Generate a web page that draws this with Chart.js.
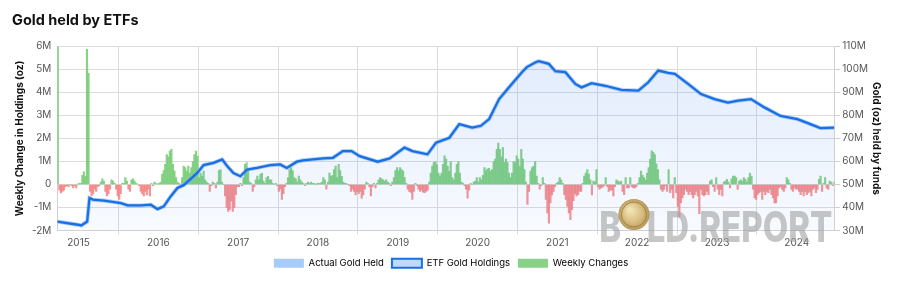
<!DOCTYPE html>
<html>
<head>
<meta charset="utf-8">
<title>Gold held by ETFs</title>
<script src="https://cdn.jsdelivr.net/npm/chart.js@4.4.1/dist/chart.umd.min.js"></script>
<style>
  html, body { margin: 0; padding: 0; background: #fff; }
</style>
</head>
<body>
<canvas id="chart" width="900" height="286"></canvas>
<script>
// Weekly change in holdings (million oz), one array per year, week index from Jan 1
// 2014 starts at week 38 (first point = whole initial holding, clipped by the axis)
const startWeek2014 = 38;
const changes2014 = [33.9, -0.25, -0.37, -0.3, -0.25, -0.1, -0.05, -0.1, 0, -0.05, -0.15, -0.05, -0.15, 0.02];
const changes2015 = [0.05, 0.05, 0.4, 0.55, 0.35, 5.87, 4.83, -0.3, -0.5, -0.4, -0.2, -0.3, -0.1, -0.05,
  0.1, 0.25, 0.15, -0.3, -0.5, -0.4, -0.2, 0.2, 0.15, 0.05, -0.2, -0.5, -0.65, -0.4, 0.05, 0.05,
  0.3, 0.15, -0.2, -0.3, 0.2, 0.25, 0.15, 0.05, 0.02, -0.05, -0.3, -0.4, -0.5, -0.3, -0.45, -0.2,
  -0.5, 0.05, -0.05, 0.1, 0.05, 0.02];
const changes2016 = [0.05, 0.1, 0.44, 0.6, 0.87, 1.3, 1.2, 1.45, 1.53, 0.87, 0.58, 0.3, 0.1, 0.05,
  0, 0.3, 0.8, 0.73, 0.58, 0.8, 0.5, 0.73, 1.0, 1.3, 1.45, 1.23, 0.3, 0.5, 0.36, 0.58, 0.2, 0.1,
  0.05, -0.3, -0.05, 0.1, 0.05, -0.15, 0.1, 0.6, 0.65, 0.1, 0, -0.5, -1.0, -1.17, -1.1, -0.73,
  -1.17, -1.0, -0.44, -0.1];
const changes2017 = [-0.1, 0.05, -0.05, 0.3, 0.87, 0.95, 0.6, 0.1, 0.05, -0.3, -0.1, 0.2, 0.36, 0.2,
  0.44, 0.5, 0.15, 0.05, 0.3, 0.35, 0.2, 0.2, 0.05, 0, 0.05, -0.05, -0.3, -0.2, -0.65, -0.4, -0.1,
  0.05, 0.3, 0.65, 0.73, 0.6, 0.3, 0.25, 0.1, 0.36, 0.2, 0.1, 0.05, -0.05, 0.05, 0.1, 0.05, 0.1,
  0.05, 0.05, 0, 0.05];
const changes2018 = [0.05, 0.05, 0.1, 0.3, 0.2, -0.2, 0.1, 0.5, 0.35, 0.4, 0.65, 0.8, 0.3, 0.87,
  0.6, 0.35, 0.1, 0.05, 0.05, 0, -0.05, -0.3, -0.2, -0.3, -0.45, -0.3, -0.4, -0.3, -0.6, -0.45,
  -0.2, 0.1, 0.05, -0.1, -0.5, -0.1, 0.05, -0.15, 0.05, 0.2, 0.3, 0.25, 0.2, 0.15, 0.2, 0.1, 0.05,
  -0.05, 0.1, 0.3, 0.6, 0.73];
const changes2019 = [0.6, 0.73, 0.65, 0.58, 0.3, 0.05, -0.2, -0.3, -0.35, -0.65, -0.3, 0.05, -0.05,
  -0.2, -0.3, -0.25, -0.33, -0.36, -0.3, -0.25, 0.1, 0.5, 0.8, 0.95, 1.0, 0.85, 0.5, 0.36, 0.5,
  0.87, 1.24, 1.1, 0.8, 0.58, 1.0, 0.3, 0.2, 0.5, 0.87, 1.0, 0.5, 0.1, 0.05, -0.05, -0.2, -0.6,
  -0.25, 0.05, 0, 0.1, 0.15, 0.3];
const changes2020 = [0.1, 0.3, 0.2, 0.4, 0.73, 0.6, 0.68, 0.7, 0.58, 0.65, 1.0, 1.1, 1.53, 1.8, 1.53,
  1.2, 1.6, 0.95, 1.1, 0.95, 0.5, 0.3, 0.5, 1.0, 0.95, 1.24, 1.1, 0.8, 1.53, 1.1, 0.65, 0.1, -0.87,
  -0.3, 0.58, 0.73, 0.8, 1.0, 0.36, 0.05, -0.2, -0.05, 0.3, 0.05, -0.65, -1.24, -1.68, -0.8, -0.45,
  -0.3, -0.1, 0.05];
const changes2021 = [0.1, 0.3, 0.2, 0.05, -0.44, -0.65, -0.95, -1.24, -1.53, -1.1, -0.7, -0.4, -0.5,
  -0.44, -0.3, -0.3, 0.05, 0.36, 0.5, 0.65, 0.45, 0.2, -0.45, 0.15, 0.1, 0.65, -0.1, -0.2, -0.15,
  -0.12, -0.05, 0.3, -0.1, -0.3, -0.25, -0.25, -0.5, -0.1, 0.2, 0.15, 0.1, 0.15, -0.3, -0.44, 0.3,
  -0.15, -0.15, 0.3, -0.1, -0.15, -0.15, -0.1];
const changes2022 = [0.05, 0.3, 0.58, 0.4, 0.3, 0.2, 0.5, 0.73, 1.1, 1.46, 1.4, 1.3, 0.9, 0.65, 0.2,
  -0.22, -0.3, -0.22, -0.05, -0.3, 0.65, -0.36, -0.22, -0.58, 0.3, -0.36, -0.95, -1.4, -0.8, -0.58,
  -0.44, -0.22, -0.3, -0.44, -0.3, -0.44, -0.58, -0.44, -0.3, -0.5, -1.27, -0.22, -0.44, -0.5,
  -0.44, -0.3, -0.44, 0.15, 0.2, -0.1, -0.3, 0.3];
const changes2023 = [-0.2, -0.44, -0.22, -0.5, 0.1, 0.15, 0.22, 0.1, -0.15, 0.25, 0.36, 0.36, 0.3,
  -0.22, 0.15, 0.2, 0.15, 0.3, 0.22, 0.1, 0.3, 0.5, 0.36, -0.2, -0.58, -0.65, -0.44, -0.36, -0.3,
  -0.65, -0.3, -0.44, -0.3, -0.36, -0.22, -0.44, -0.58, -0.8, -0.8, -0.5, -0.15, -0.1, -0.22, -0.3,
  -0.15, 0.3, 0.2, 0.05, -0.22, -0.3, -0.15, -0.2];
const changes2024 = [-0.2, -0.3, -0.44, -0.3, -0.5, -0.3, -0.44, -0.36, -0.3, -0.5, -0.22, -0.15,
  -0.36, -0.22, 0.22, 0.36, -0.3, 0.05, 0.3, -0.15, -0.22, 0.15, 0.1, -0.05, 0.1];

// ETF gold holdings (million oz) at these dates (decimal years)
const holdingDates = [2014.735, 2014.993, 2015.034, 2015.108, 2015.137, 2015.18, 2015.32, 2015.532,
  2015.616, 2015.782, 2015.906, 2015.99, 2016.068, 2016.156, 2016.239, 2016.318, 2016.488, 2016.567,
  2016.692, 2016.8, 2016.862, 2016.941, 2017.028, 2017.112, 2017.236, 2017.402, 2017.527, 2017.61,
  2017.735, 2017.814, 2018.063, 2018.188, 2018.312, 2018.421, 2018.524, 2018.749, 2018.898, 2019.085,
  2019.185, 2019.372, 2019.48, 2019.646, 2019.771, 2019.933, 2020.041, 2020.145, 2020.27, 2020.394,
  2020.556, 2020.618, 2020.727, 2020.768, 2020.893, 2020.976, 2021.101, 2021.225, 2021.304, 2021.429,
  2021.6, 2021.803, 2022.015, 2022.139, 2022.264, 2022.389, 2022.472, 2022.638, 2022.8, 2022.971,
  2023.137, 2023.262, 2023.427, 2023.594, 2023.797, 2024.009, 2024.171, 2024.296, 2024.471];
const holdingValues = [33.9, 32.5, 32.2, 33.9, 44.1, 43.4, 43.0, 41.9, 40.9, 40.9, 41.2, 39.3, 40.5,
  44.9, 48.5, 49.7, 55.0, 58.4, 59.4, 60.9, 58.0, 55.0, 53.6, 56.5, 57.2, 58.4, 58.7, 57.2, 59.9,
  60.5, 61.3, 61.6, 64.5, 64.5, 62.3, 59.9, 61.3, 66.0, 64.5, 63.1, 68.2, 70.3, 76.2, 74.7, 75.5,
  78.4, 87.1, 92.2, 98.8, 101.0, 103.1, 103.6, 102.4, 99.2, 98.8, 93.7, 92.2, 94.0, 92.9, 91.1,
  90.8, 94.4, 99.5, 98.5, 98.1, 93.7, 89.3, 87.1, 85.6, 86.4, 87.1, 83.5, 79.8, 78.4, 76.2, 74.5, 74.7];

const leftTicks = [-2, -1, 0, 1, 2, 3, 4, 5, 6];
const rightTicks = [30, 40, 50, 60, 70, 80, 90, 100, 110];
const yearTicks = [2015, 2016, 2017, 2018, 2019, 2020, 2021, 2022, 2023, 2024];

const green = 'rgba(118, 204, 118, 0.88)';
const red = 'rgba(245, 126, 126, 0.82)';
const blue = '#1a6fe3';

// Build {x, y} points for the weekly bars
const yearly = [
  [2014, changes2014], [2015, changes2015], [2016, changes2016], [2017, changes2017],
  [2018, changes2018], [2019, changes2019], [2020, changes2020], [2021, changes2021],
  [2022, changes2022], [2023, changes2023], [2024, changes2024]
];
const weeklyPoints = [];
yearly.forEach(([year, arr]) => {
  const offset = year === 2014 ? startWeek2014 : 0;
  arr.forEach((v, i) => {
    weeklyPoints.push({ x: year + (offset + i + 0.5) / 52, y: v });
  });
});
const holdingPoints = holdingDates.map((d, i) => ({ x: d, y: holdingValues[i] }));

// Watermark "BOLD.REPORT" with a coin as the O
const watermark = {
  id: 'watermark',
  afterDatasetsDraw(chart) {
    const { ctx, chartArea } = chart;
    ctx.save();
    ctx.font = '800 42px Inter';
    const wB = ctx.measureText('B').width;
    const wO = ctx.measureText('O').width;
    const wRest = ctx.measureText('LD.REPORT').width;
    const targetW = 233;
    const sx = targetW / (wB + wO + wRest);
    const left = chartArea.right - targetW - 2;
    const base = chartArea.bottom - 1;
    ctx.fillStyle = 'rgba(160, 160, 160, 0.6)';
    ctx.save();
    ctx.translate(left, base);
    ctx.scale(sx, 1);
    ctx.fillText('B', 0, 0);
    ctx.fillText('LD.REPORT', wB + wO, 0);
    ctx.restore();
    const cx = left + (wB + wO / 2) * sx;
    const cy = base - 15;
    const r = 15.5;
    const g = ctx.createRadialGradient(cx - 4, cy - 5, 2, cx, cy, r);
    g.addColorStop(0, '#f1dfa4');
    g.addColorStop(0.6, '#d3b269');
    g.addColorStop(1, '#a9853c');
    ctx.globalAlpha = 0.85;
    ctx.beginPath();
    ctx.arc(cx, cy, r, 0, Math.PI * 2);
    ctx.fillStyle = g;
    ctx.fill();
    ctx.lineWidth = 1;
    ctx.strokeStyle = '#9a7a36';
    ctx.beginPath();
    ctx.arc(cx, cy, r - 3, 0, Math.PI * 2);
    ctx.stroke();
    ctx.restore();
  }
};

const tickFont = { family: 'Inter', size: 10 };

const ctx = document.getElementById('chart').getContext('2d');
const chart = new Chart(ctx, {
  type: 'bar',
  data: {
    datasets: [{
      type: 'line',
      label: 'Actual Gold Held',
      data: holdingPoints,
      yAxisID: 'y1',
      borderColor: 'rgba(110, 170, 245, 0.55)',
      borderWidth: 4,
      pointRadius: 0,
      fill: false,
      order: 2
    }, {
      type: 'line',
      label: 'ETF Gold Holdings',
      data: holdingPoints,
      yAxisID: 'y1',
      borderColor: blue,
      borderWidth: 2.3,
      pointRadius: 0,
      fill: 'start',
      backgroundColor: (c) => {
        const area = c.chart.chartArea;
        if (!area) return 'rgba(66, 133, 244, 0.1)';
        const g = c.chart.ctx.createLinearGradient(0, area.top, 0, area.bottom);
        g.addColorStop(0, 'rgba(66, 133, 244, 0.16)');
        g.addColorStop(1, 'rgba(66, 133, 244, 0.04)');
        return g;
      },
      order: 1
    }, {
      type: 'bar',
      label: 'Weekly Changes',
      data: weeklyPoints,
      yAxisID: 'y',
      backgroundColor: (c) => (c.raw && c.raw.y < 0 ? red : green),
      borderWidth: 0,
      barPercentage: 1,
      categoryPercentage: 1,
      order: 3
    }]
  },
  options: {
    responsive: false,
    animation: false,
    layout: { padding: { left: 12, right: 10, top: 8, bottom: 8 } },
    scales: {
      x: {
        type: 'linear',
        min: 2014.735,
        max: 2024.47,
        offset: false,
        afterBuildTicks: (scale) => { scale.ticks = yearTicks.map(v => ({ value: v })); },
        ticks: {
          callback: (v) => String(v),
          color: '#555',
          font: tickFont,
          padding: 2,
          maxRotation: 0,
          autoSkip: false
        },
        grid: { color: '#dcdcdc', tickLength: 4 },
        border: { color: '#d0d0d0' }
      },
      y: {
        position: 'left',
        min: -2,
        max: 6,
        afterBuildTicks: (scale) => { scale.ticks = leftTicks.map(v => ({ value: v })); },
        ticks: {
          callback: (v) => (v === 0 ? '0' : v + 'M'),
          color: '#555',
          font: tickFont,
          padding: 6
        },
        grid: { color: '#dcdcdc', drawTicks: false },
        border: { color: '#d0d0d0' },
        title: {
          display: true,
          text: 'Weekly Change in Holdings (oz)',
          color: '#111',
          font: { family: 'Inter', size: 10, weight: 'bold' },
          padding: { top: 2, bottom: 0 }
        }
      },
      y1: {
        position: 'right',
        min: 30,
        max: 110,
        afterBuildTicks: (scale) => { scale.ticks = rightTicks.map(v => ({ value: v })); },
        ticks: {
          callback: (v) => v + 'M',
          color: '#555',
          font: tickFont,
          padding: 2
        },
        grid: { drawOnChartArea: false, color: '#cfcfcf', tickLength: 6 },
        border: { color: '#d0d0d0' },
        title: {
          display: true,
          text: 'Gold (oz) held by funds',
          color: '#111',
          font: { family: 'Inter', size: 10, weight: 'bold' },
          padding: { top: 8, bottom: 0 }
        }
      }
    },
    plugins: {
      title: {
        display: true,
        text: 'Gold held by ETFs',
        align: 'start',
        color: '#111',
        font: { family: 'Inter', size: 14.5, weight: 'bold' },
        padding: { top: 4, bottom: 17 }
      },
      legend: {
        position: 'bottom',
        labels: {
          boxWidth: 30,
          boxHeight: 9,
          padding: 8,
          color: '#555',
          font: { family: 'Inter', size: 9.5 },
          generateLabels: () => [
            { text: 'Actual Gold Held', fillStyle: 'rgba(110, 170, 245, 0.6)', strokeStyle: 'rgba(110, 170, 245, 0.6)', lineWidth: 0, datasetIndex: 0 },
            { text: 'ETF Gold Holdings', fillStyle: 'rgba(110, 170, 245, 0.45)', strokeStyle: blue, lineWidth: 2, datasetIndex: 1 },
            { text: 'Weekly Changes', fillStyle: green, strokeStyle: green, lineWidth: 0, datasetIndex: 2 }
          ]
        }
      },
      tooltip: { enabled: false }
    }
  },
  plugins: [watermark]
});
</script>
</body>
</html>
